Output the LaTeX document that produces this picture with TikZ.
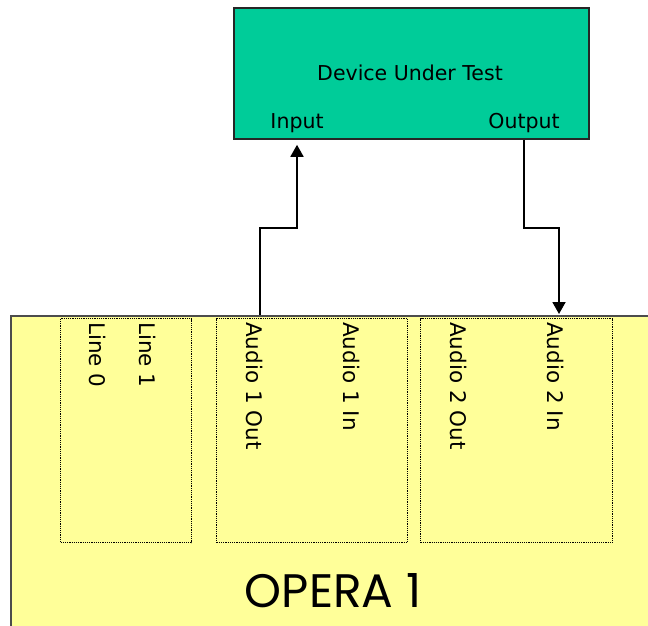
\documentclass[tikz,border=0pt]{standalone}
\usepackage{fontspec}
\setsansfont{DejaVu Sans}
\newfontfamily\operafont{Poppins}
\usepackage{tikz}
\usetikzlibrary{arrows.meta,positioning}

\definecolor{dutgreen}{HTML}{00CC99}
\definecolor{operayellow}{HTML}{FFFF99}

\tikzset{
	dutbox/.style={draw=black!85, line width=1.8pt, fill=dutgreen, anchor=north west, minimum width=355pt, minimum height=131pt},
	operabox/.style={draw=black!70, line width=1.8pt, fill=operayellow, anchor=north west, minimum width=680pt, minimum height=340pt},
	slotbox/.style={draw=black, line width=1.2pt, dash pattern=on 1.2pt off 1pt, anchor=north west, minimum height=224pt},
	portlbl/.style={rotate=-90, anchor=west, inner sep=0pt, font=\sffamily\fontsize{21.5}{24}\selectfont},
	conn/.style={line width=1.8pt}
}

\begin{document}
\begin{tikzpicture}[x=1pt,y=-1pt,>={Triangle[width=13pt,length=12pt]},font=\sffamily\fontsize{20.5}{24}\selectfont]
	
	\useasboundingbox (0,0) rectangle (648,625);
	\clip (0,0) rectangle (648,625);
	
	\node[dutbox] (dut) at (233,7) {};
	\node[anchor=base] (dutlbl) at (410,80) {Device Under Test};
	\node[anchor=base] (inlbl) at (297,128) {Input};
	\node[anchor=base] (outlbl) at (524,128) {Output};
	
	\node[operabox] (opera) at (10,315) {};
	\node[slotbox, minimum width=131pt] (lines) at (60,318) {};
	\node[slotbox, minimum width=191pt] (audio1) at (216,318) {};
	\node[slotbox, minimum width=192pt] (audio2) at (420,318) {};
	
	\node[portlbl] (line0) at (98,322) {Line 0};
	\node[portlbl] (line1) at (148,322) {Line 1};
	\node[portlbl] (a1out) at (255,322) {Audio 1 Out};
	\node[portlbl] (a1in) at (352,322) {Audio 1 In};
	\node[portlbl] (a2out) at (459,322) {Audio 2 Out};
	\node[portlbl] (a2in) at (556,322) {Audio 2 In};
	
	\node[anchor=base, font=\operafont\fontsize{47}{50}\selectfont] (operalbl) at (333,607) {OPERA 1};
	
	\coordinate (a1x) at (260,0);
	\coordinate (a2x) at (559,0);
	\coordinate (midl) at (297,228);
	\coordinate (midr) at (559,228);
	
	\draw[conn,->,shorten >=5pt] (opera.north -| a1x) |- (midl) -- (dut.south -| inlbl);
	\draw[conn,->,shorten >=1pt] (dut.south -| outlbl) |- (midr) -- (opera.north -| a2x);
\end{tikzpicture}
\end{document}
